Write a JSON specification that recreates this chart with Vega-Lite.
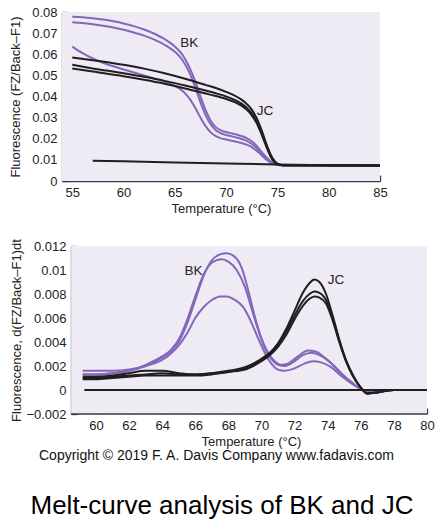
{
  "$schema": "https://vega.github.io/schema/vega-lite/v6.json",
  "padding": {"left": 9, "top": 6, "right": 4, "bottom": 0},
  "background": "white",
  "datasets": {
    "top": [
      {"s": "P1", "g": "BK", "t": 55, "f": 0.0778}, {"s": "P1", "g": "BK", "t": 56, "f": 0.0775}, {"s": "P1", "g": "BK", "t": 57, "f": 0.077}, {"s": "P1", "g": "BK", "t": 58, "f": 0.0764}, {"s": "P1", "g": "BK", "t": 59, "f": 0.0756}, {"s": "P1", "g": "BK", "t": 60, "f": 0.0746}, {"s": "P1", "g": "BK", "t": 61, "f": 0.0733}, {"s": "P1", "g": "BK", "t": 62, "f": 0.0717}, {"s": "P1", "g": "BK", "t": 63, "f": 0.0697}, {"s": "P1", "g": "BK", "t": 64, "f": 0.0672}, {"s": "P1", "g": "BK", "t": 65, "f": 0.0637}, {"s": "P1", "g": "BK", "t": 65.5, "f": 0.0612}, {"s": "P1", "g": "BK", "t": 66, "f": 0.0578}, {"s": "P1", "g": "BK", "t": 66.5, "f": 0.053}, {"s": "P1", "g": "BK", "t": 67, "f": 0.047}, {"s": "P1", "g": "BK", "t": 67.5, "f": 0.04}, {"s": "P1", "g": "BK", "t": 68, "f": 0.0335}, {"s": "P1", "g": "BK", "t": 68.5, "f": 0.0285}, {"s": "P1", "g": "BK", "t": 69, "f": 0.0255}, {"s": "P1", "g": "BK", "t": 69.5, "f": 0.024}, {"s": "P1", "g": "BK", "t": 70, "f": 0.0232}, {"s": "P1", "g": "BK", "t": 70.5, "f": 0.0226}, {"s": "P1", "g": "BK", "t": 71, "f": 0.022}, {"s": "P1", "g": "BK", "t": 71.5, "f": 0.0213}, {"s": "P1", "g": "BK", "t": 72, "f": 0.0203}, {"s": "P1", "g": "BK", "t": 72.5, "f": 0.0188}, {"s": "P1", "g": "BK", "t": 73, "f": 0.0165}, {"s": "P1", "g": "BK", "t": 73.5, "f": 0.0135}, {"s": "P1", "g": "BK", "t": 74, "f": 0.0108}, {"s": "P1", "g": "BK", "t": 74.5, "f": 0.0088}, {"s": "P1", "g": "BK", "t": 75, "f": 0.0078}, {"s": "P1", "g": "BK", "t": 75.5, "f": 0.0076}, {"s": "P1", "g": "BK", "t": 76, "f": 0.0075}, {"s": "P1", "g": "BK", "t": 85, "f": 0.0073},
      {"s": "P2", "g": "BK", "t": 55, "f": 0.0752}, {"s": "P2", "g": "BK", "t": 56, "f": 0.0748}, {"s": "P2", "g": "BK", "t": 57, "f": 0.0742}, {"s": "P2", "g": "BK", "t": 58, "f": 0.0735}, {"s": "P2", "g": "BK", "t": 59, "f": 0.0727}, {"s": "P2", "g": "BK", "t": 60, "f": 0.0716}, {"s": "P2", "g": "BK", "t": 61, "f": 0.0703}, {"s": "P2", "g": "BK", "t": 62, "f": 0.0688}, {"s": "P2", "g": "BK", "t": 63, "f": 0.0669}, {"s": "P2", "g": "BK", "t": 64, "f": 0.0645}, {"s": "P2", "g": "BK", "t": 65, "f": 0.0612}, {"s": "P2", "g": "BK", "t": 65.5, "f": 0.0588}, {"s": "P2", "g": "BK", "t": 66, "f": 0.0553}, {"s": "P2", "g": "BK", "t": 66.5, "f": 0.0505}, {"s": "P2", "g": "BK", "t": 67, "f": 0.0442}, {"s": "P2", "g": "BK", "t": 67.5, "f": 0.0372}, {"s": "P2", "g": "BK", "t": 68, "f": 0.0312}, {"s": "P2", "g": "BK", "t": 68.5, "f": 0.0268}, {"s": "P2", "g": "BK", "t": 69, "f": 0.024}, {"s": "P2", "g": "BK", "t": 69.5, "f": 0.0226}, {"s": "P2", "g": "BK", "t": 70, "f": 0.0218}, {"s": "P2", "g": "BK", "t": 70.5, "f": 0.0212}, {"s": "P2", "g": "BK", "t": 71, "f": 0.0206}, {"s": "P2", "g": "BK", "t": 71.5, "f": 0.0199}, {"s": "P2", "g": "BK", "t": 72, "f": 0.019}, {"s": "P2", "g": "BK", "t": 72.5, "f": 0.0175}, {"s": "P2", "g": "BK", "t": 73, "f": 0.0155}, {"s": "P2", "g": "BK", "t": 73.5, "f": 0.0128}, {"s": "P2", "g": "BK", "t": 74, "f": 0.0104}, {"s": "P2", "g": "BK", "t": 74.5, "f": 0.0086}, {"s": "P2", "g": "BK", "t": 75, "f": 0.0077}, {"s": "P2", "g": "BK", "t": 75.5, "f": 0.0075}, {"s": "P2", "g": "BK", "t": 85, "f": 0.0073},
      {"s": "P3", "g": "BK", "t": 55, "f": 0.0636}, {"s": "P3", "g": "BK", "t": 56, "f": 0.0605}, {"s": "P3", "g": "BK", "t": 57, "f": 0.058}, {"s": "P3", "g": "BK", "t": 58, "f": 0.056}, {"s": "P3", "g": "BK", "t": 59, "f": 0.0543}, {"s": "P3", "g": "BK", "t": 60, "f": 0.0528}, {"s": "P3", "g": "BK", "t": 61, "f": 0.0514}, {"s": "P3", "g": "BK", "t": 62, "f": 0.05}, {"s": "P3", "g": "BK", "t": 63, "f": 0.0486}, {"s": "P3", "g": "BK", "t": 64, "f": 0.047}, {"s": "P3", "g": "BK", "t": 65, "f": 0.045}, {"s": "P3", "g": "BK", "t": 65.5, "f": 0.0436}, {"s": "P3", "g": "BK", "t": 66, "f": 0.0415}, {"s": "P3", "g": "BK", "t": 66.5, "f": 0.0385}, {"s": "P3", "g": "BK", "t": 67, "f": 0.0345}, {"s": "P3", "g": "BK", "t": 67.5, "f": 0.03}, {"s": "P3", "g": "BK", "t": 68, "f": 0.026}, {"s": "P3", "g": "BK", "t": 68.5, "f": 0.023}, {"s": "P3", "g": "BK", "t": 69, "f": 0.0212}, {"s": "P3", "g": "BK", "t": 69.5, "f": 0.0202}, {"s": "P3", "g": "BK", "t": 70, "f": 0.0196}, {"s": "P3", "g": "BK", "t": 70.5, "f": 0.0191}, {"s": "P3", "g": "BK", "t": 71, "f": 0.0186}, {"s": "P3", "g": "BK", "t": 71.5, "f": 0.018}, {"s": "P3", "g": "BK", "t": 72, "f": 0.0172}, {"s": "P3", "g": "BK", "t": 72.5, "f": 0.016}, {"s": "P3", "g": "BK", "t": 73, "f": 0.0142}, {"s": "P3", "g": "BK", "t": 73.5, "f": 0.012}, {"s": "P3", "g": "BK", "t": 74, "f": 0.0098}, {"s": "P3", "g": "BK", "t": 74.5, "f": 0.0083}, {"s": "P3", "g": "BK", "t": 75, "f": 0.0076}, {"s": "P3", "g": "BK", "t": 75.5, "f": 0.0074}, {"s": "P3", "g": "BK", "t": 85, "f": 0.0073},
      {"s": "B1", "g": "JC", "t": 55, "f": 0.0585}, {"s": "B1", "g": "JC", "t": 57, "f": 0.0572}, {"s": "B1", "g": "JC", "t": 60, "f": 0.055}, {"s": "B1", "g": "JC", "t": 62, "f": 0.0532}, {"s": "B1", "g": "JC", "t": 64, "f": 0.051}, {"s": "B1", "g": "JC", "t": 66, "f": 0.0484}, {"s": "B1", "g": "JC", "t": 68, "f": 0.0455}, {"s": "B1", "g": "JC", "t": 69, "f": 0.044}, {"s": "B1", "g": "JC", "t": 70, "f": 0.0422}, {"s": "B1", "g": "JC", "t": 71, "f": 0.04}, {"s": "B1", "g": "JC", "t": 71.5, "f": 0.0385}, {"s": "B1", "g": "JC", "t": 72, "f": 0.0365}, {"s": "B1", "g": "JC", "t": 72.5, "f": 0.0338}, {"s": "B1", "g": "JC", "t": 73, "f": 0.0295}, {"s": "B1", "g": "JC", "t": 73.5, "f": 0.0235}, {"s": "B1", "g": "JC", "t": 74, "f": 0.0165}, {"s": "B1", "g": "JC", "t": 74.5, "f": 0.011}, {"s": "B1", "g": "JC", "t": 75, "f": 0.0082}, {"s": "B1", "g": "JC", "t": 75.5, "f": 0.0075}, {"s": "B1", "g": "JC", "t": 85, "f": 0.0073},
      {"s": "B2", "g": "JC", "t": 55, "f": 0.055}, {"s": "B2", "g": "JC", "t": 57, "f": 0.0533}, {"s": "B2", "g": "JC", "t": 60, "f": 0.051}, {"s": "B2", "g": "JC", "t": 62, "f": 0.0493}, {"s": "B2", "g": "JC", "t": 64, "f": 0.0474}, {"s": "B2", "g": "JC", "t": 66, "f": 0.0452}, {"s": "B2", "g": "JC", "t": 68, "f": 0.0428}, {"s": "B2", "g": "JC", "t": 69, "f": 0.0415}, {"s": "B2", "g": "JC", "t": 70, "f": 0.04}, {"s": "B2", "g": "JC", "t": 71, "f": 0.038}, {"s": "B2", "g": "JC", "t": 71.5, "f": 0.0366}, {"s": "B2", "g": "JC", "t": 72, "f": 0.0347}, {"s": "B2", "g": "JC", "t": 72.5, "f": 0.032}, {"s": "B2", "g": "JC", "t": 73, "f": 0.028}, {"s": "B2", "g": "JC", "t": 73.5, "f": 0.0222}, {"s": "B2", "g": "JC", "t": 74, "f": 0.0158}, {"s": "B2", "g": "JC", "t": 74.5, "f": 0.0105}, {"s": "B2", "g": "JC", "t": 75, "f": 0.008}, {"s": "B2", "g": "JC", "t": 75.5, "f": 0.0075}, {"s": "B2", "g": "JC", "t": 85, "f": 0.0073},
      {"s": "B3", "g": "JC", "t": 55, "f": 0.0533}, {"s": "B3", "g": "JC", "t": 57, "f": 0.0518}, {"s": "B3", "g": "JC", "t": 60, "f": 0.0496}, {"s": "B3", "g": "JC", "t": 62, "f": 0.0479}, {"s": "B3", "g": "JC", "t": 64, "f": 0.046}, {"s": "B3", "g": "JC", "t": 66, "f": 0.0438}, {"s": "B3", "g": "JC", "t": 68, "f": 0.0414}, {"s": "B3", "g": "JC", "t": 69, "f": 0.0402}, {"s": "B3", "g": "JC", "t": 70, "f": 0.0388}, {"s": "B3", "g": "JC", "t": 71, "f": 0.037}, {"s": "B3", "g": "JC", "t": 71.5, "f": 0.0357}, {"s": "B3", "g": "JC", "t": 72, "f": 0.0338}, {"s": "B3", "g": "JC", "t": 72.5, "f": 0.0311}, {"s": "B3", "g": "JC", "t": 73, "f": 0.0272}, {"s": "B3", "g": "JC", "t": 73.5, "f": 0.0215}, {"s": "B3", "g": "JC", "t": 74, "f": 0.0153}, {"s": "B3", "g": "JC", "t": 74.5, "f": 0.0102}, {"s": "B3", "g": "JC", "t": 75, "f": 0.0079}, {"s": "B3", "g": "JC", "t": 75.5, "f": 0.0075}, {"s": "B3", "g": "JC", "t": 85, "f": 0.0073},
      {"s": "base", "g": "JC", "t": 57, "f": 0.0096}, {"s": "base", "g": "JC", "t": 60, "f": 0.0093}, {"s": "base", "g": "JC", "t": 65, "f": 0.0088}, {"s": "base", "g": "JC", "t": 70, "f": 0.0083}, {"s": "base", "g": "JC", "t": 75, "f": 0.0078}, {"s": "base", "g": "JC", "t": 80, "f": 0.0075}, {"s": "base", "g": "JC", "t": 85, "f": 0.0073}
    ],
    "bottom": [
      {"s": "Q1", "g": "BK", "t": 59.2, "f": 0.0013}, {"s": "Q1", "g": "BK", "t": 60, "f": 0.0013}, {"s": "Q1", "g": "BK", "t": 61, "f": 0.0014}, {"s": "Q1", "g": "BK", "t": 62, "f": 0.0016}, {"s": "Q1", "g": "BK", "t": 63, "f": 0.002}, {"s": "Q1", "g": "BK", "t": 64, "f": 0.0027}, {"s": "Q1", "g": "BK", "t": 64.5, "f": 0.0032}, {"s": "Q1", "g": "BK", "t": 65, "f": 0.004}, {"s": "Q1", "g": "BK", "t": 65.5, "f": 0.0055}, {"s": "Q1", "g": "BK", "t": 66, "f": 0.0075}, {"s": "Q1", "g": "BK", "t": 66.5, "f": 0.0095}, {"s": "Q1", "g": "BK", "t": 67, "f": 0.0108}, {"s": "Q1", "g": "BK", "t": 67.5, "f": 0.0113}, {"s": "Q1", "g": "BK", "t": 67.9, "f": 0.0114}, {"s": "Q1", "g": "BK", "t": 68.3, "f": 0.0112}, {"s": "Q1", "g": "BK", "t": 68.8, "f": 0.0102}, {"s": "Q1", "g": "BK", "t": 69.2, "f": 0.0083}, {"s": "Q1", "g": "BK", "t": 69.6, "f": 0.0061}, {"s": "Q1", "g": "BK", "t": 70, "f": 0.0043}, {"s": "Q1", "g": "BK", "t": 70.4, "f": 0.0031}, {"s": "Q1", "g": "BK", "t": 70.8, "f": 0.0024}, {"s": "Q1", "g": "BK", "t": 71.2, "f": 0.0021}, {"s": "Q1", "g": "BK", "t": 71.6, "f": 0.0022}, {"s": "Q1", "g": "BK", "t": 72.2, "f": 0.0028}, {"s": "Q1", "g": "BK", "t": 72.8, "f": 0.0033}, {"s": "Q1", "g": "BK", "t": 73.3, "f": 0.0032}, {"s": "Q1", "g": "BK", "t": 73.8, "f": 0.0027}, {"s": "Q1", "g": "BK", "t": 74.4, "f": 0.002}, {"s": "Q1", "g": "BK", "t": 74.9, "f": 0.0013}, {"s": "Q1", "g": "BK", "t": 75.5, "f": 0.0006}, {"s": "Q1", "g": "BK", "t": 76, "f": 0.0001}, {"s": "Q1", "g": "BK", "t": 76.4, "f": -0.0001}, {"s": "Q1", "g": "BK", "t": 77, "f": -0.0001}, {"s": "Q1", "g": "BK", "t": 78, "f": 0}, {"s": "Q1", "g": "BK", "t": 80, "f": 0},
      {"s": "Q2", "g": "BK", "t": 59.2, "f": 0.0013}, {"s": "Q2", "g": "BK", "t": 60, "f": 0.0013}, {"s": "Q2", "g": "BK", "t": 61, "f": 0.0014}, {"s": "Q2", "g": "BK", "t": 62, "f": 0.0016}, {"s": "Q2", "g": "BK", "t": 63, "f": 0.0021}, {"s": "Q2", "g": "BK", "t": 64, "f": 0.0028}, {"s": "Q2", "g": "BK", "t": 64.5, "f": 0.0033}, {"s": "Q2", "g": "BK", "t": 65, "f": 0.0042}, {"s": "Q2", "g": "BK", "t": 65.5, "f": 0.0058}, {"s": "Q2", "g": "BK", "t": 66, "f": 0.0078}, {"s": "Q2", "g": "BK", "t": 66.5, "f": 0.0096}, {"s": "Q2", "g": "BK", "t": 67, "f": 0.0106}, {"s": "Q2", "g": "BK", "t": 67.6, "f": 0.0109}, {"s": "Q2", "g": "BK", "t": 68, "f": 0.0107}, {"s": "Q2", "g": "BK", "t": 68.5, "f": 0.01}, {"s": "Q2", "g": "BK", "t": 69, "f": 0.0086}, {"s": "Q2", "g": "BK", "t": 69.4, "f": 0.0068}, {"s": "Q2", "g": "BK", "t": 69.8, "f": 0.005}, {"s": "Q2", "g": "BK", "t": 70.2, "f": 0.0035}, {"s": "Q2", "g": "BK", "t": 70.6, "f": 0.0026}, {"s": "Q2", "g": "BK", "t": 71, "f": 0.0021}, {"s": "Q2", "g": "BK", "t": 71.4, "f": 0.002}, {"s": "Q2", "g": "BK", "t": 71.9, "f": 0.0023}, {"s": "Q2", "g": "BK", "t": 72.5, "f": 0.0029}, {"s": "Q2", "g": "BK", "t": 73, "f": 0.0031}, {"s": "Q2", "g": "BK", "t": 73.5, "f": 0.0029}, {"s": "Q2", "g": "BK", "t": 74, "f": 0.0025}, {"s": "Q2", "g": "BK", "t": 74.5, "f": 0.0018}, {"s": "Q2", "g": "BK", "t": 75, "f": 0.0011}, {"s": "Q2", "g": "BK", "t": 75.5, "f": 0.0005}, {"s": "Q2", "g": "BK", "t": 76, "f": 0.0001}, {"s": "Q2", "g": "BK", "t": 76.4, "f": -0.0001}, {"s": "Q2", "g": "BK", "t": 77, "f": -0.0001}, {"s": "Q2", "g": "BK", "t": 78, "f": 0}, {"s": "Q2", "g": "BK", "t": 80, "f": 0},
      {"s": "Q3", "g": "BK", "t": 59.2, "f": 0.0016}, {"s": "Q3", "g": "BK", "t": 60, "f": 0.0016}, {"s": "Q3", "g": "BK", "t": 61, "f": 0.0016}, {"s": "Q3", "g": "BK", "t": 62, "f": 0.0017}, {"s": "Q3", "g": "BK", "t": 63, "f": 0.002}, {"s": "Q3", "g": "BK", "t": 64, "f": 0.0025}, {"s": "Q3", "g": "BK", "t": 64.5, "f": 0.003}, {"s": "Q3", "g": "BK", "t": 65, "f": 0.0037}, {"s": "Q3", "g": "BK", "t": 65.5, "f": 0.0047}, {"s": "Q3", "g": "BK", "t": 66, "f": 0.006}, {"s": "Q3", "g": "BK", "t": 66.5, "f": 0.0069}, {"s": "Q3", "g": "BK", "t": 67, "f": 0.0075}, {"s": "Q3", "g": "BK", "t": 67.5, "f": 0.0078}, {"s": "Q3", "g": "BK", "t": 67.9, "f": 0.0078}, {"s": "Q3", "g": "BK", "t": 68.4, "f": 0.0075}, {"s": "Q3", "g": "BK", "t": 68.9, "f": 0.0069}, {"s": "Q3", "g": "BK", "t": 69.4, "f": 0.0056}, {"s": "Q3", "g": "BK", "t": 69.8, "f": 0.0043}, {"s": "Q3", "g": "BK", "t": 70.2, "f": 0.0031}, {"s": "Q3", "g": "BK", "t": 70.6, "f": 0.0022}, {"s": "Q3", "g": "BK", "t": 71, "f": 0.0017}, {"s": "Q3", "g": "BK", "t": 71.4, "f": 0.0016}, {"s": "Q3", "g": "BK", "t": 72, "f": 0.0018}, {"s": "Q3", "g": "BK", "t": 72.6, "f": 0.0022}, {"s": "Q3", "g": "BK", "t": 73.1, "f": 0.0024}, {"s": "Q3", "g": "BK", "t": 73.6, "f": 0.0023}, {"s": "Q3", "g": "BK", "t": 74.2, "f": 0.0019}, {"s": "Q3", "g": "BK", "t": 74.8, "f": 0.0012}, {"s": "Q3", "g": "BK", "t": 75.4, "f": 0.0006}, {"s": "Q3", "g": "BK", "t": 76, "f": 0.0001}, {"s": "Q3", "g": "BK", "t": 76.4, "f": -0.0002}, {"s": "Q3", "g": "BK", "t": 77, "f": -0.0001}, {"s": "Q3", "g": "BK", "t": 78, "f": 0}, {"s": "Q3", "g": "BK", "t": 80, "f": 0},
      {"s": "K1", "g": "JC", "t": 59.2, "f": 0.001}, {"s": "K1", "g": "JC", "t": 60, "f": 0.001}, {"s": "K1", "g": "JC", "t": 61, "f": 0.0011}, {"s": "K1", "g": "JC", "t": 62, "f": 0.0012}, {"s": "K1", "g": "JC", "t": 63, "f": 0.0013}, {"s": "K1", "g": "JC", "t": 64, "f": 0.0014}, {"s": "K1", "g": "JC", "t": 65, "f": 0.0013}, {"s": "K1", "g": "JC", "t": 66, "f": 0.0013}, {"s": "K1", "g": "JC", "t": 67, "f": 0.0014}, {"s": "K1", "g": "JC", "t": 68, "f": 0.0016}, {"s": "K1", "g": "JC", "t": 69, "f": 0.0019}, {"s": "K1", "g": "JC", "t": 69.5, "f": 0.0022}, {"s": "K1", "g": "JC", "t": 70, "f": 0.0026}, {"s": "K1", "g": "JC", "t": 70.5, "f": 0.0031}, {"s": "K1", "g": "JC", "t": 71, "f": 0.0039}, {"s": "K1", "g": "JC", "t": 71.5, "f": 0.0051}, {"s": "K1", "g": "JC", "t": 72, "f": 0.0066}, {"s": "K1", "g": "JC", "t": 72.5, "f": 0.0081}, {"s": "K1", "g": "JC", "t": 72.9, "f": 0.0089}, {"s": "K1", "g": "JC", "t": 73.2, "f": 0.0092}, {"s": "K1", "g": "JC", "t": 73.5, "f": 0.009}, {"s": "K1", "g": "JC", "t": 73.9, "f": 0.008}, {"s": "K1", "g": "JC", "t": 74.3, "f": 0.0062}, {"s": "K1", "g": "JC", "t": 74.7, "f": 0.0042}, {"s": "K1", "g": "JC", "t": 75.1, "f": 0.0025}, {"s": "K1", "g": "JC", "t": 75.5, "f": 0.0013}, {"s": "K1", "g": "JC", "t": 76, "f": 0.0002}, {"s": "K1", "g": "JC", "t": 76.4, "f": -0.0003}, {"s": "K1", "g": "JC", "t": 77, "f": -0.0002}, {"s": "K1", "g": "JC", "t": 78, "f": 0}, {"s": "K1", "g": "JC", "t": 80, "f": 0},
      {"s": "K2", "g": "JC", "t": 59.2, "f": 0.0011}, {"s": "K2", "g": "JC", "t": 60, "f": 0.0011}, {"s": "K2", "g": "JC", "t": 61, "f": 0.0012}, {"s": "K2", "g": "JC", "t": 62, "f": 0.0014}, {"s": "K2", "g": "JC", "t": 63, "f": 0.0016}, {"s": "K2", "g": "JC", "t": 64, "f": 0.0016}, {"s": "K2", "g": "JC", "t": 65, "f": 0.0014}, {"s": "K2", "g": "JC", "t": 66, "f": 0.0013}, {"s": "K2", "g": "JC", "t": 67, "f": 0.0014}, {"s": "K2", "g": "JC", "t": 68, "f": 0.0015}, {"s": "K2", "g": "JC", "t": 69, "f": 0.0018}, {"s": "K2", "g": "JC", "t": 69.5, "f": 0.0021}, {"s": "K2", "g": "JC", "t": 70, "f": 0.0025}, {"s": "K2", "g": "JC", "t": 70.5, "f": 0.003}, {"s": "K2", "g": "JC", "t": 71, "f": 0.0038}, {"s": "K2", "g": "JC", "t": 71.5, "f": 0.0049}, {"s": "K2", "g": "JC", "t": 72, "f": 0.0062}, {"s": "K2", "g": "JC", "t": 72.5, "f": 0.0074}, {"s": "K2", "g": "JC", "t": 72.9, "f": 0.008}, {"s": "K2", "g": "JC", "t": 73.2, "f": 0.0082}, {"s": "K2", "g": "JC", "t": 73.5, "f": 0.0081}, {"s": "K2", "g": "JC", "t": 73.9, "f": 0.0075}, {"s": "K2", "g": "JC", "t": 74.3, "f": 0.006}, {"s": "K2", "g": "JC", "t": 74.7, "f": 0.0041}, {"s": "K2", "g": "JC", "t": 75.1, "f": 0.0025}, {"s": "K2", "g": "JC", "t": 75.5, "f": 0.0013}, {"s": "K2", "g": "JC", "t": 76, "f": 0.0002}, {"s": "K2", "g": "JC", "t": 76.4, "f": -0.0003}, {"s": "K2", "g": "JC", "t": 77, "f": -0.0002}, {"s": "K2", "g": "JC", "t": 78, "f": 0}, {"s": "K2", "g": "JC", "t": 80, "f": 0},
      {"s": "K3", "g": "JC", "t": 59.2, "f": 0.0009}, {"s": "K3", "g": "JC", "t": 60, "f": 0.0009}, {"s": "K3", "g": "JC", "t": 61, "f": 0.001}, {"s": "K3", "g": "JC", "t": 62, "f": 0.0011}, {"s": "K3", "g": "JC", "t": 63, "f": 0.0012}, {"s": "K3", "g": "JC", "t": 64, "f": 0.0012}, {"s": "K3", "g": "JC", "t": 65, "f": 0.0012}, {"s": "K3", "g": "JC", "t": 66, "f": 0.0012}, {"s": "K3", "g": "JC", "t": 67, "f": 0.0013}, {"s": "K3", "g": "JC", "t": 68, "f": 0.0015}, {"s": "K3", "g": "JC", "t": 69, "f": 0.0017}, {"s": "K3", "g": "JC", "t": 69.5, "f": 0.002}, {"s": "K3", "g": "JC", "t": 70, "f": 0.0024}, {"s": "K3", "g": "JC", "t": 70.5, "f": 0.0029}, {"s": "K3", "g": "JC", "t": 71, "f": 0.0036}, {"s": "K3", "g": "JC", "t": 71.5, "f": 0.0046}, {"s": "K3", "g": "JC", "t": 72, "f": 0.0059}, {"s": "K3", "g": "JC", "t": 72.5, "f": 0.007}, {"s": "K3", "g": "JC", "t": 72.9, "f": 0.0076}, {"s": "K3", "g": "JC", "t": 73.2, "f": 0.0078}, {"s": "K3", "g": "JC", "t": 73.5, "f": 0.0077}, {"s": "K3", "g": "JC", "t": 73.9, "f": 0.0072}, {"s": "K3", "g": "JC", "t": 74.3, "f": 0.0058}, {"s": "K3", "g": "JC", "t": 74.7, "f": 0.004}, {"s": "K3", "g": "JC", "t": 75.1, "f": 0.0024}, {"s": "K3", "g": "JC", "t": 75.5, "f": 0.0012}, {"s": "K3", "g": "JC", "t": 76, "f": 0.0002}, {"s": "K3", "g": "JC", "t": 76.4, "f": -0.0003}, {"s": "K3", "g": "JC", "t": 77, "f": -0.0002}, {"s": "K3", "g": "JC", "t": 78, "f": 0}, {"s": "K3", "g": "JC", "t": 80, "f": 0},
      {"s": "zero", "g": "JC", "t": 59.3, "f": 0}, {"s": "zero", "g": "JC", "t": 80, "f": 0}
    ],
    "topLabels": [
      {"t": 66.4, "f": 0.0653, "label": "BK"},
      {"t": 73.8, "f": 0.033, "label": "JC"}
    ],
    "bottomLabels": [
      {"t": 65.9, "f": 0.0099, "label": "BK"},
      {"t": 74.5, "f": 0.0092, "label": "JC"}
    ]
  },
  "title": {
    "text": "Melt-curve analysis of BK and JC",
    "orient": "bottom",
    "anchor": "middle",
    "fontSize": 26,
    "fontWeight": "normal",
    "font": "Liberation Sans",
    "color": "#000",
    "offset": 30
  },
  "columns": 1,
  "spacing": 23,
  "concat": [
    {
      "width": 318,
      "height": 169,
      "layer": [
        {
          "data": {"values": [{}]},
          "mark": {"type": "rect", "color": "#eeebf4"},
          "encoding": {
            "x": {"datum": 54, "type": "quantitative", "scale": {"domain": [54, 85], "nice": false, "zero": false}, "axis": {"values": [55, 60, 65, 70, 75, 80, 85], "tickCount": 40, "format": "d", "labelOverlap": false, "title": "Temperature (°C)"}},
            "x2": {"datum": 85},
            "y": {"datum": 0, "type": "quantitative", "scale": {"domain": [0, 0.08], "nice": false}, "axis": {"values": [0, 0.01, 0.02, 0.03, 0.04, 0.05, 0.06, 0.07, 0.08], "tickCount": 40, "format": "~g", "labelOverlap": false, "titlePadding": 9, "title": "Fluorescence (FZ/Back–F1)"}},
            "y2": {"datum": 0.08}
          }
        },
        {
          "data": {"name": "top"},
          "mark": {"type": "line", "strokeWidth": 2, "interpolate": "monotone"},
          "encoding": {
            "x": {"field": "t", "type": "quantitative", "title": "Temperature (°C)"},
            "y": {"field": "f", "type": "quantitative", "title": "Fluorescence (FZ/Back–F1)"},
            "detail": {"field": "s", "type": "nominal"},
            "color": {"field": "g", "type": "nominal", "scale": {"domain": ["BK", "JC"], "range": ["#8467b9", "#1f1f1f"]}, "legend": null}
          }
        },
        {
          "data": {"name": "topLabels"},
          "mark": {"type": "text", "font": "Liberation Sans", "fontSize": 13.5, "color": "#222"},
          "encoding": {
            "x": {"field": "t", "type": "quantitative", "title": "Temperature (°C)"},
            "y": {"field": "f", "type": "quantitative", "title": "Fluorescence (FZ/Back–F1)"},
            "text": {"field": "label"}
          }
        }
      ]
    },
    {
      "width": 365,
      "height": 168,
      "title": {
        "text": "Copyright © 2019 F. A. Davis Company www.fadavis.com",
        "orient": "bottom",
        "anchor": "middle",
        "frame": "group",
        "dx": -28,
        "fontSize": 14,
        "fontWeight": "normal",
        "font": "Liberation Sans",
        "color": "#111",
        "offset": 1
      },
      "layer": [
        {
          "data": {"values": [{}]},
          "mark": {"type": "rect", "color": "#eeebf4"},
          "encoding": {
            "x": {"datum": 58.5, "type": "quantitative", "scale": {"domain": [57.95, 80], "nice": false, "zero": false}, "axis": {"values": [60, 62, 64, 66, 68, 70, 72, 74, 76, 78, 80], "tickCount": 40, "format": "d", "labelOverlap": false, "domain": false, "titleX": 189, "title": "Temperature (°C)"}},
            "x2": {"datum": 80},
            "y": {"datum": -0.002, "type": "quantitative", "scale": {"domain": [-0.002, 0.012], "nice": false}, "axis": {"values": [-0.002, 0, 0.002, 0.004, 0.006, 0.008, 0.01, 0.012], "tickCount": 40, "format": "~g", "labelOverlap": false, "offset": -9, "titlePadding": 2, "title": "Fluorescence, d(FZ/Back–F1)dt"}},
            "y2": {"datum": 0.012}
          }
        },
        {
          "data": {"values": [{}]},
          "mark": {"type": "rule", "color": "#3a3a3a", "strokeWidth": 1.3},
          "encoding": {
            "x": {"datum": 58.5, "type": "quantitative", "title": "Temperature (°C)"},
            "x2": {"datum": 80},
            "y": {"datum": -0.002, "type": "quantitative", "title": "Fluorescence, d(FZ/Back–F1)dt"}
          }
        },
        {
          "data": {"name": "bottom"},
          "mark": {"type": "line", "strokeWidth": 2, "interpolate": "monotone"},
          "encoding": {
            "x": {"field": "t", "type": "quantitative", "title": "Temperature (°C)"},
            "y": {"field": "f", "type": "quantitative", "title": "Fluorescence, d(FZ/Back–F1)dt"},
            "detail": {"field": "s", "type": "nominal"},
            "color": {"field": "g", "type": "nominal", "scale": {"domain": ["BK", "JC"], "range": ["#8467b9", "#1f1f1f"]}, "legend": null}
          }
        },
        {
          "data": {"name": "bottomLabels"},
          "mark": {"type": "text", "font": "Liberation Sans", "fontSize": 13.5, "color": "#222"},
          "encoding": {
            "x": {"field": "t", "type": "quantitative", "title": "Temperature (°C)"},
            "y": {"field": "f", "type": "quantitative", "title": "Fluorescence, d(FZ/Back–F1)dt"},
            "text": {"field": "label"}
          }
        }
      ]
    }
  ],
  "config": {
    "view": {"stroke": null},
    "axis": {
      "grid": false,
      "domainColor": "#3a3a3a",
      "domainWidth": 1.3,
      "tickColor": "#3a3a3a",
      "tickWidth": 1.3,
      "tickSize": -6,
      "labelOverlap": false,
      "labelFlush": false,
      "labelBound": false,
      "labelFont": "Liberation Sans",
      "labelFontSize": 13,
      "labelColor": "#222",
      "titleFont": "Liberation Sans",
      "titleFontSize": 13,
      "titleFontWeight": "normal",
      "titleColor": "#222"
    },
    "axisX": {"labelPadding": 11, "titlePadding": 3},
    "axisY": {"labelPadding": 11, "titlePadding": 3}
  }
}
